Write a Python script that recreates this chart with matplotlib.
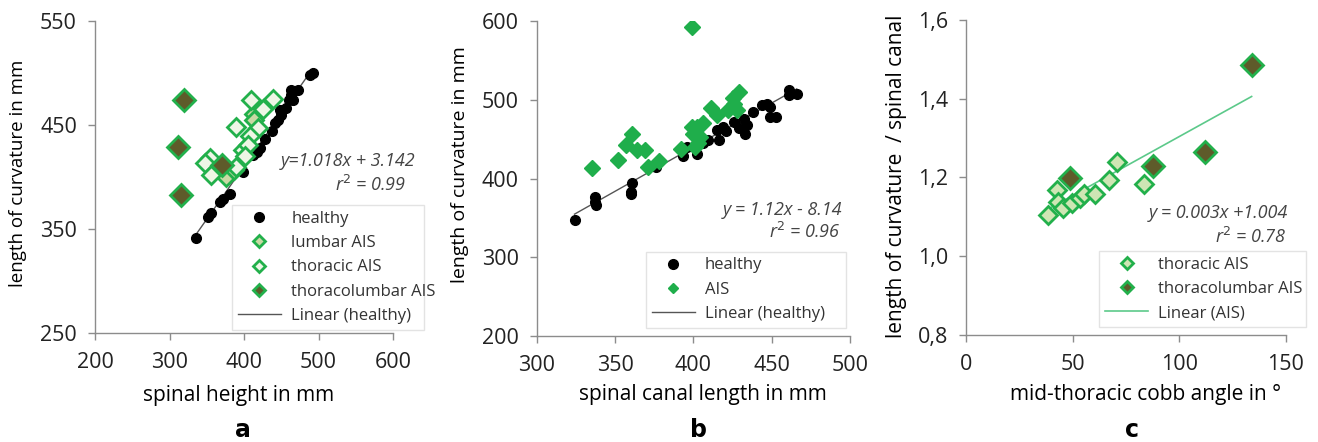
import matplotlib.pyplot as plt
import numpy as np

plt.rcParams['font.family'] = ['Open Sans', 'DejaVu Sans']

GREEN = '#1fae4b'
EDGE = '#22b04b'
DARK_FILL = '#5e5b2a'
LUMBAR_FILL = '#c9d9a4'
THOR_FILL = '#eef6e6'
GRAY = '#8c8c8c'

# ---- panel a : spinal height vs length of curvature
a_healthy_x = [336, 351, 356, 368, 372, 381, 399, 408, 412, 417, 421, 428, 437, 441, 446,
               448, 450, 456, 461, 463, 466, 463, 472, 488, 492]
a_healthy_y = [341, 362, 365, 376, 379, 384, 405, 430, 421, 424, 428, 437, 444, 452, 455,
               464, 460, 466, 474, 479, 474, 484, 484, 498, 500]
a_lumbar_x = [376, 386, 414, 413]
a_lumbar_y = [400, 407, 461, 455]
a_thor_x = [389, 409, 439, 425, 419, 408, 399, 406, 389, 354, 348, 356, 401]
a_thor_y = [448, 474, 475, 465, 447, 439, 426, 431, 410, 418, 413, 402, 420]
a_tl_x = [320, 312, 316, 371]
a_tl_y = [474, 429, 383, 412]
a_fit = [1.018, 3.142]

# ---- panel b : spinal canal length vs length of curvature
b_healthy_x = [324, 337, 337, 338, 361, 360, 360, 376, 393, 396, 402, 406, 409, 415, 416,
               419, 421, 426, 429, 432, 434, 433, 438, 444, 447, 449, 449, 453, 461, 461, 466]
b_healthy_y = [347, 377, 370, 366, 394, 383, 380, 415, 428, 440, 431, 445, 449, 462, 449,
               466, 460, 472, 464, 476, 468, 457, 485, 493, 495, 491, 478, 478, 506, 512, 507]
b_ais_x = [399, 335, 352, 357, 361, 364, 369, 371, 378, 392, 399, 400, 402, 404, 403, 406,
           401, 411, 415, 422, 426, 428, 429, 425]
b_ais_y = [593, 413, 423, 442, 457, 436, 436, 415, 422, 437, 466, 457, 466, 453, 445, 470,
           440, 489, 481, 487, 495, 487, 510, 502]
b_fit = [1.12, -8.14]

# ---- panel c : cobb angle vs ratio
c_thor_x = [38.6, 42.5, 43.0, 45.3, 49.5, 53.4, 55.3, 60.5, 67.2, 70.9, 83.4]
c_thor_y = [1.105, 1.167, 1.137, 1.122, 1.134, 1.147, 1.158, 1.158, 1.194, 1.239, 1.183]
c_tl_x = [49.0, 87.8, 112.0, 133.9]
c_tl_y = [1.198, 1.228, 1.264, 1.486]
c_fit = [0.003, 1.004]

fig = plt.figure(figsize=(13.18, 4.42), dpi=100)
axa = fig.add_axes([0.0721, 0.2466, 0.2261, 0.7059])
axb = fig.add_axes([0.4074, 0.2398, 0.2375, 0.7127])
axc = fig.add_axes([0.7329, 0.2421, 0.2428, 0.7127])


def style(ax):
    for s in ['top', 'right']:
        ax.spines[s].set_visible(False)
    for s in ['left', 'bottom']:
        ax.spines[s].set_color(GRAY)
        ax.spines[s].set_linewidth(1.0)
    ax.tick_params(direction='out', length=5, width=1.0, color=GRAY,
                   labelsize=15.5, labelcolor='#222222')
    ax.tick_params(axis='y', pad=8)
    ax.tick_params(axis='x', pad=9)


def labels(ax, xl, yl, xpos, ypos, ysize):
    ax.set_xlabel(xl, fontsize=15, va='center')
    ax.set_ylabel(yl, fontsize=ysize, va='center')
    ax.xaxis.set_label_coords(*xpos)
    ax.yaxis.set_label_coords(*ypos)


def legend(ax, bbox):
    leg = ax.legend(loc='lower left', bbox_to_anchor=bbox, bbox_transform=fig.transFigure,
                    mode='expand', fontsize=12, frameon=True, fancybox=False,
                    borderaxespad=0, handlelength=2.6, labelspacing=0.5,
                    borderpad=0.35, handletextpad=0.6)
    leg.get_frame().set_edgecolor('#dddddd')
    leg.get_frame().set_linewidth(1.0)
    for t in leg.get_texts():
        t.set_color('#333333')
    return leg


# panel a
xs = np.array([min(a_healthy_x), max(a_healthy_x)])
axa.plot(a_healthy_x, a_healthy_y, 'o', color='black', ms=7, label='healthy', zorder=3)
axa.plot(a_lumbar_x, a_lumbar_y, 'D', mfc=LUMBAR_FILL, mec=EDGE, mew=2, ms=9.5,
         label='lumbar AIS', zorder=4)
axa.plot(a_thor_x, a_thor_y, 'D', mfc=THOR_FILL, mec=EDGE, mew=2, ms=9.5,
         label='thoracic AIS', zorder=4)
axa.plot(a_tl_x, a_tl_y, 'D', mfc=DARK_FILL, mec=EDGE, mew=2, ms=11,
         label='thoracolumbar AIS', zorder=5)
axa.plot(xs, a_fit[0] * xs + a_fit[1], color='#555555', lw=1.0,
         label='Linear (healthy)', zorder=2)
axa.set_xlim(200, 600)
axa.set_ylim(250, 550)
axa.set_xticks([200, 300, 400, 500, 600])
axa.set_yticks([250, 350, 450, 550])
style(axa)
labels(axa, 'spinal height in mm', 'length of curvature in mm',
       (0.48, -0.199), (-0.258, 0.513), 13.5)
la = legend(axa, (0.176, 0.2534, 0.1457, 0.2986))
for h in la.legend_handles[1:4]:
    h.set_markersize(6)

fig.text(0.3149, 0.635, 'y=1.018x + 3.142', style='italic', fontsize=13,
         color='#444444', ha='right', va='center')
fig.text(0.3080, 0.581, 'r$^2$ = 0.99', style='italic', fontsize=13,
         color='#444444', ha='right', va='center')

# panel b
xs = np.array([min(b_healthy_x), max(b_healthy_x)])
axb.plot(b_healthy_x, b_healthy_y, 'o', color='black', ms=7, label='healthy', zorder=3)
axb.plot(b_ais_x, b_ais_y, 'D', color=GREEN, ms=8, label='AIS', zorder=4)
axb.plot(xs, b_fit[0] * xs + b_fit[1], color='#555555', lw=1.0,
         label='Linear (healthy)', zorder=2)
axb.set_xlim(300, 500)
axb.set_ylim(200, 600)
axb.set_xticks([300, 350, 400, 450, 500])
axb.set_yticks([200, 300, 400, 500, 600])
style(axb)
labels(axb, 'spinal canal length in mm', 'length of curvature in mm',
       (0.53, -0.187), (-0.246, 0.543), 14)
lb = legend(axb, (0.490, 0.258, 0.152, 0.181))
lb.legend_handles[1].set_markersize(5)

fig.text(0.639, 0.525, 'y = 1.12x - 8.14', style='italic', fontsize=13,
         color='#444444', ha='right', va='center')
fig.text(0.6375, 0.475, 'r$^2$ = 0.96', style='italic', fontsize=13,
         color='#444444', ha='right', va='center')

# panel c
all_x = c_thor_x + c_tl_x
xs = np.array([min(all_x), max(all_x)])
axc.plot(c_thor_x, c_thor_y, 'D', mfc='#cfe6b4', mec=EDGE, mew=2, ms=9.5,
         label='thoracic AIS', zorder=4)
axc.plot(c_tl_x, c_tl_y, 'D', mfc=DARK_FILL, mec=EDGE, mew=2, ms=11,
         label='thoracolumbar AIS', zorder=5)
axc.plot(xs, c_fit[0] * xs + c_fit[1], color='#5cc98a', lw=1.2,
         label='Linear (AIS)', zorder=2)
axc.set_xlim(0, 150)
axc.set_ylim(0.8, 1.6)
axc.set_xticks([0, 50, 100, 150])
axc.set_yticks([0.8, 1.0, 1.2, 1.4, 1.6])
axc.set_yticklabels(['0,8', '1,0', '1,2', '1,4', '1,6'])
style(axc)
labels(axc, 'mid-thoracic cobb angle in °', 'length of curvature  / spinal canal',
       (0.56, -0.19), (-0.216, 0.505), 15)
lc = legend(axc, (0.834, 0.260, 0.157, 0.168))
for h in lc.legend_handles[:2]:
    h.set_markersize(6)

fig.text(0.977, 0.518, 'y = 0.003x +1.004', style='italic', fontsize=13,
         color='#444444', ha='right', va='center')
fig.text(0.976, 0.464, 'r$^2$ = 0.78', style='italic', fontsize=13,
         color='#444444', ha='right', va='center')

# sub labels
for x, s in [(0.1845, 'a'), (0.5296, 'b'), (0.8590, 'c')]:
    fig.text(x, 0.027, s, fontsize=17, fontweight='bold', ha='center', va='center',
             family='DejaVu Sans')

fig.savefig('out.png', dpi=100)
